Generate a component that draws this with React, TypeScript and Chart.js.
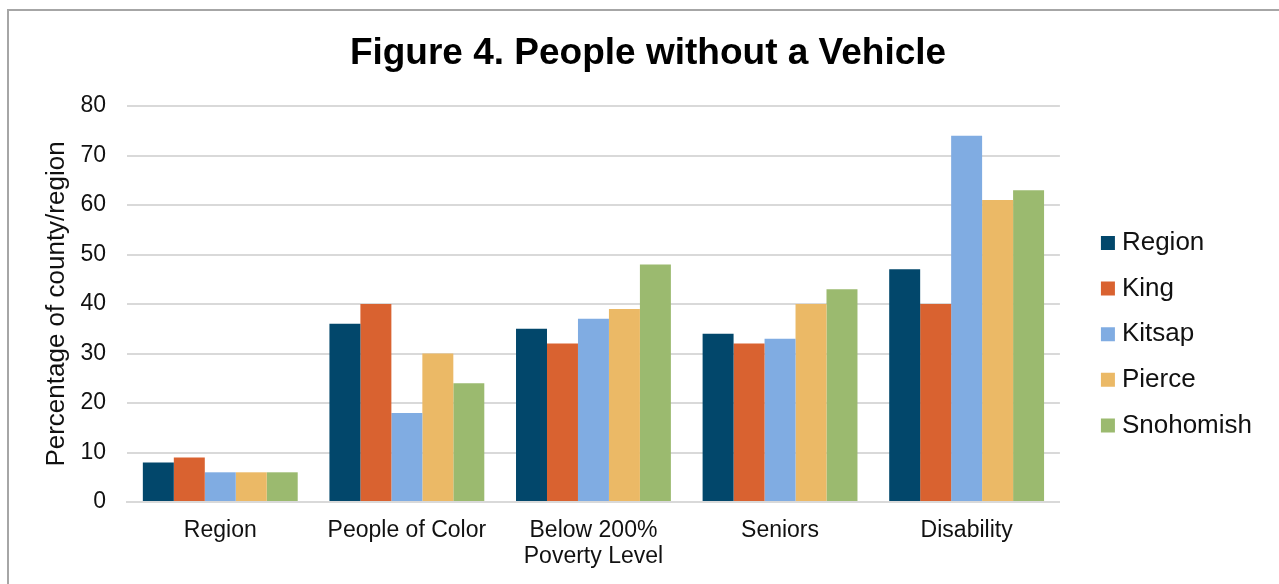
import React, { useEffect, useRef } from "react";
import { Chart, registerables } from "chart.js";

Chart.register(...registerables);

const categories: (string | string[])[] = [
  "Region",
  "People of Color",
  ["Below 200%", "Poverty Level"],
  "Seniors",
  "Disability",
];
const seriesNames = ["Region", "King", "Kitsap", "Pierce", "Snohomish"];
const regionValues = [8, 36, 35, 34, 47];
const kingValues = [9, 40, 32, 32, 40];
const kitsapValues = [6, 18, 37, 33, 74];
const pierceValues = [6, 30, 39, 40, 61];
const snohomishValues = [6, 24, 48, 43, 63];
const seriesColors = ["#02476B", "#D96230", "#80ACE2", "#EBB966", "#9BBA6F"];
const yTicks = [0, 10, 20, 30, 40, 50, 60, 70, 80];

const FONT = "'Liberation Sans', Arial, Helvetica, sans-serif";

export default function App() {
  const ref = useRef<HTMLCanvasElement | null>(null);

  useEffect(() => {
    if (!ref.current) return;
    Chart.defaults.font.family = FONT;
    const values = [regionValues, kingValues, kitsapValues, pierceValues, snohomishValues];
    const chart = new Chart(ref.current, {
      type: "bar",
      data: {
        labels: categories,
        datasets: seriesNames.map((name, i) => ({
          label: name,
          data: values[i],
          backgroundColor: seriesColors[i],
          borderWidth: 0,
          categoryPercentage: 0.83,
          barPercentage: 1,
        })),
      },
      options: {
        animation: false,
        responsive: true,
        maintainAspectRatio: false,
        layout: { padding: { left: 25, right: 17, top: 0, bottom: -1.6 } },
        plugins: {
          tooltip: { enabled: false },
          title: {
            display: true,
            text: "Figure 4. People without a Vehicle",
            color: "#000",
            font: { size: 37, weight: "bold", family: FONT, lineHeight: 1.2 },
            padding: { top: 21, bottom: 29.6 },
          },
          legend: {
            display: true,
            position: "right",
            fullSize: false,
            title: {
              display: true,
              text: " ",
              font: { size: 10, lineHeight: 1 },
              padding: { top: 23, bottom: 27.4 },
            },
            labels: {
              usePointStyle: true,
              pointStyle: "rect",
              boxWidth: 2,
              boxHeight: 14,
              padding: 19.6,
              color: "#111",
              font: { size: 26, family: FONT },
            },
          },
        },
        scales: {
          x: {
            grid: { display: false, drawTicks: false },
            border: { display: true, color: "#D9D9D9", width: 2 },
            ticks: {
              color: "#111",
              padding: 16.5,
              maxRotation: 0,
              autoSkip: false,
              font: { size: 23, family: FONT, lineHeight: 1.1 },
            },
          },
          y: {
            min: 0,
            max: 80,
            afterBuildTicks: (axis: any) => {
              axis.ticks = yTicks.map((v) => ({ value: v }));
            },
            grid: { color: "#D9D9D9", lineWidth: 2, drawTicks: false },
            border: { display: false },
            ticks: {
              color: "#111",
              padding: 21,
              font: { size: 23, family: FONT },
            },
            title: {
              display: true,
              text: "Percentage of county/region",
              color: "#111",
              font: { size: 26, family: FONT, lineHeight: 1.2 },
              padding: { top: 7.4, bottom: -13.2 },
            },
          },
          pad: {
            type: "linear",
            position: "right",
            display: true,
            grid: { display: false, drawTicks: false },
            border: { display: false },
            ticks: { display: false },
            title: {
              display: true,
              text: "",
              font: { size: 10, lineHeight: 1 },
              padding: { top: 8.7, bottom: 8.7 },
            },
          },
        },
      } as any,
    });
    return () => chart.destroy();
  }, []);

  return (
    <div
      style={{
        position: "absolute",
        left: 7,
        top: 9,
        width: 1272,
        height: 575,
        boxSizing: "border-box",
        borderTop: "2px solid #A6A6A6",
        borderLeft: "2px solid #A6A6A6",
        background: "#fff",
      }}
    >
      <div style={{ position: "relative", width: "100%", height: "100%" }}>
        <canvas ref={ref} />
      </div>
    </div>
  );
}
